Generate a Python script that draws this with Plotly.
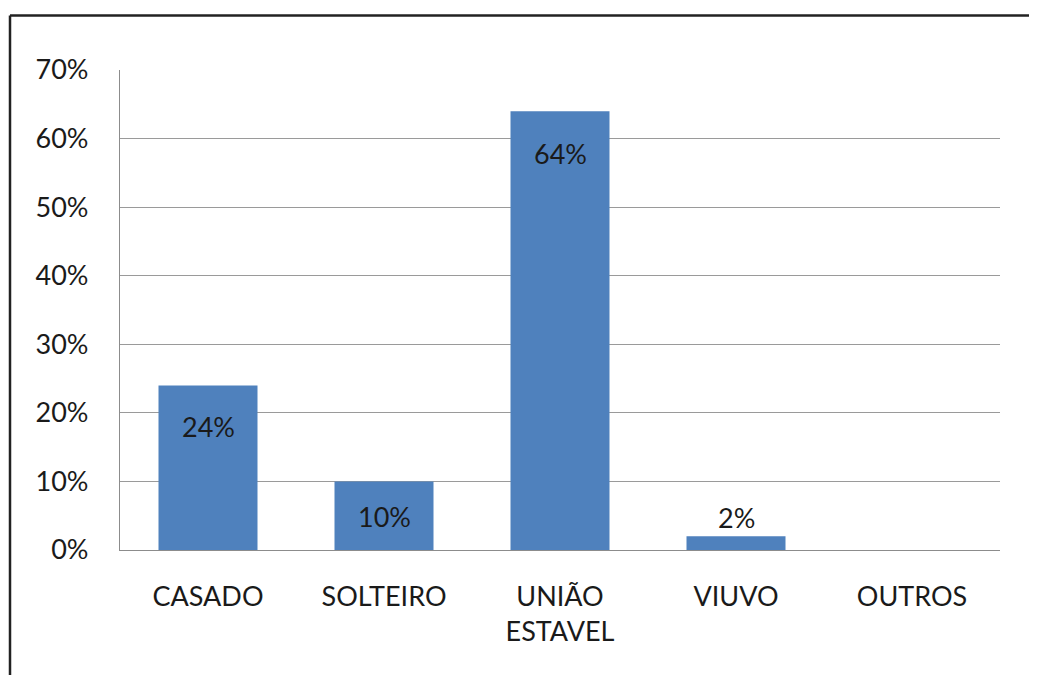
import plotly.graph_objects as go

categories = ["CASADO", "SOLTEIRO", "UNIÃO<br>ESTAVEL", "VIUVO", "OUTROS"]
values = [0.24, 0.10, 0.64, 0.02, 0.0]
labels = ["24%", "10%", "64%", "2%", ""]
label_shift = [-41, -35, -42, 19, 0]

BAR = "#4F81BD"
FONT = "Lato"

fig = go.Figure()
fig.add_trace(go.Bar(x=categories, y=values, marker=dict(color=BAR, line=dict(width=0)),
                     hoverinfo="skip"))

for c, v, t, s in zip(categories, values, labels, label_shift):
    if t:
        fig.add_annotation(x=c, y=v, text=t, showarrow=False, yanchor="middle",
                           yshift=s, font=dict(family=FONT, size=27, color="#1a1a1a"))

fig.update_layout(
    width=1037, height=675,
    margin=dict(l=112, r=45, t=62, b=133),
    paper_bgcolor="white", plot_bgcolor="white",
    bargap=0.4375, showlegend=False,
    font=dict(family=FONT, size=27, color="#1a1a1a"),
    shapes=[
        dict(type="line", xref="paper", yref="paper", x0=-0.125, x1=-0.125, y0=1.1135, y1=-0.4,
             line=dict(color="#222", width=2.5)),
        dict(type="line", xref="paper", yref="paper", x0=-0.125, x1=1.1, y0=1.1135, y1=1.1135,
             line=dict(color="#222", width=2.5)),
    ],
)
fig.update_xaxes(showgrid=False, showline=True, linecolor="#8c8c8c", linewidth=1.3,
                 ticks="", ticklabelstandoff=22, tickfont=dict(size=27))
fig.update_yaxes(range=[0, 0.7], dtick=0.1, tickformat=".0%", showgrid=True,
                 gridcolor="#9a9a9a", gridwidth=1.3, showline=True, linecolor="#8c8c8c",
                 linewidth=1.3, ticks="", ticklabelstandoff=25, zeroline=False,
                 tickfont=dict(size=27))

fig.write_html("out.html")
